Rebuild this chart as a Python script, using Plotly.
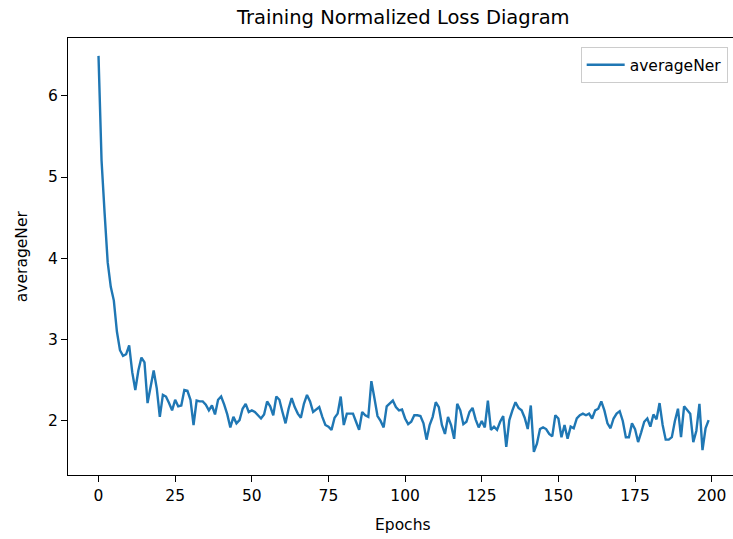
import plotly.graph_objects as go

epochs = list(range(200))
average_ner = [
    6.49, 5.20, 4.55, 3.95, 3.65, 3.48, 3.10, 2.87, 2.80, 2.82,
    2.93, 2.60, 2.38, 2.62, 2.78, 2.72, 2.22, 2.40, 2.62, 2.40,
    2.05, 2.32, 2.30, 2.22, 2.13, 2.26, 2.18, 2.19, 2.38, 2.37,
    2.26, 1.95, 2.25, 2.24, 2.24, 2.20, 2.13, 2.19, 2.08, 2.26,
    2.30, 2.20, 2.08, 1.92, 2.05, 1.97, 2.01, 2.15, 2.21, 2.11,
    2.13, 2.11, 2.07, 2.03, 2.08, 2.24, 2.18, 2.07, 2.30, 2.26,
    2.11, 1.97, 2.15, 2.28, 2.17, 2.09, 2.04, 2.21, 2.32, 2.24,
    2.11, 2.14, 2.17, 2.05, 1.95, 1.93, 1.89, 2.04, 2.09, 2.30,
    1.95, 2.09, 2.09, 2.09, 1.99, 1.89, 2.11, 2.07, 2.05, 2.49,
    2.28, 2.06, 2.00, 1.92, 2.18, 2.22, 2.25, 2.17, 2.13, 2.14,
    2.03, 1.96, 1.99, 2.07, 2.07, 2.06, 1.97, 1.77, 1.95, 2.05,
    2.23, 2.17, 1.95, 1.84, 2.05, 1.95, 1.78, 2.21, 2.13, 1.96,
    1.99, 2.11, 2.16, 2.02, 1.92, 2.00, 1.92, 2.25, 1.89, 1.93,
    1.89, 1.99, 2.06, 1.68, 2.01, 2.13, 2.23, 2.16, 2.13, 2.04,
    1.90, 2.19, 1.62, 1.72, 1.90, 1.92, 1.90, 1.84, 1.81, 2.07,
    2.03, 1.80, 1.95, 1.78, 1.93, 1.91, 2.03, 2.07, 2.09, 2.07,
    2.09, 2.03, 2.13, 2.15, 2.24, 2.13, 1.97, 1.91, 2.03, 2.09,
    2.12, 2.00, 1.80, 1.80, 1.97, 1.90, 1.74, 1.86, 1.99, 2.03,
    1.93, 2.08, 2.02, 2.22, 1.95, 1.77, 1.77, 1.80, 2.00, 2.15,
    1.80, 2.18, 2.13, 2.09, 1.74, 1.88, 2.21, 1.64, 1.91, 2.01,
]
x_ticks = [0, 25, 50, 75, 100, 125, 150, 175, 200]
y_ticks = [2, 3, 4, 5, 6]

title_text = "Training Normalized Loss Diagram"
x_label = "Epochs"
y_label = "averageNer"
series_name = "averageNer"

FONT = "DejaVu Sans"

fig = go.Figure()
fig.add_trace(go.Scatter(
    x=epochs, y=average_ner, mode="lines", name=series_name,
    line=dict(color="#1f77b4", width=2.4),
))

axis_common = dict(
    ticks="outside", ticklen=6, tickwidth=1.2, tickcolor="black",
    showline=True, linecolor="black", linewidth=1.2,
    showgrid=False, zeroline=False,
    tickfont=dict(family=FONT, size=15.5, color="black"),
)
fig.update_xaxes(range=[-9.95, 206.95], tickvals=x_ticks, mirror=True, **axis_common)
fig.update_yaxes(range=[1.335, 6.71], tickvals=y_ticks, mirror=False, **axis_common)

fig.update_layout(
    width=733, height=539,
    margin=dict(l=68, r=0, t=38, b=64),
    paper_bgcolor="white", plot_bgcolor="white",
    font=dict(family=FONT, size=15.5, color="black"),
    showlegend=True,
    legend=dict(
        x=0.992, y=0.979, xanchor="right", yanchor="top",
        bordercolor="#cccccc", borderwidth=1, bgcolor="rgba(255,255,255,0.8)",
        itemwidth=38,
        font=dict(family=FONT, size=15.5, color="black"),
    ),
    annotations=[
        dict(text=title_text, xref="paper", yref="paper", x=0.5045, y=1.0458,
             xanchor="center", yanchor="middle", showarrow=False,
             font=dict(family=FONT, size=19.5, color="black")),
        dict(text=x_label, xref="paper", yref="paper", x=0.5045, y=-0.115,
             xanchor="center", yanchor="middle", showarrow=False,
             font=dict(family=FONT, size=15.5, color="black")),
        dict(text=y_label, xref="paper", yref="paper", x=-0.0692, y=0.5008,
             xanchor="center", yanchor="middle", showarrow=False, textangle=-90,
             font=dict(family=FONT, size=15.5, color="black")),
    ],
)

fig.write_html(
    "out.html",
    config={"displayModeBar": False},
    post_script="document.body.style.margin='0';document.body.style.overflow='hidden';",
)
